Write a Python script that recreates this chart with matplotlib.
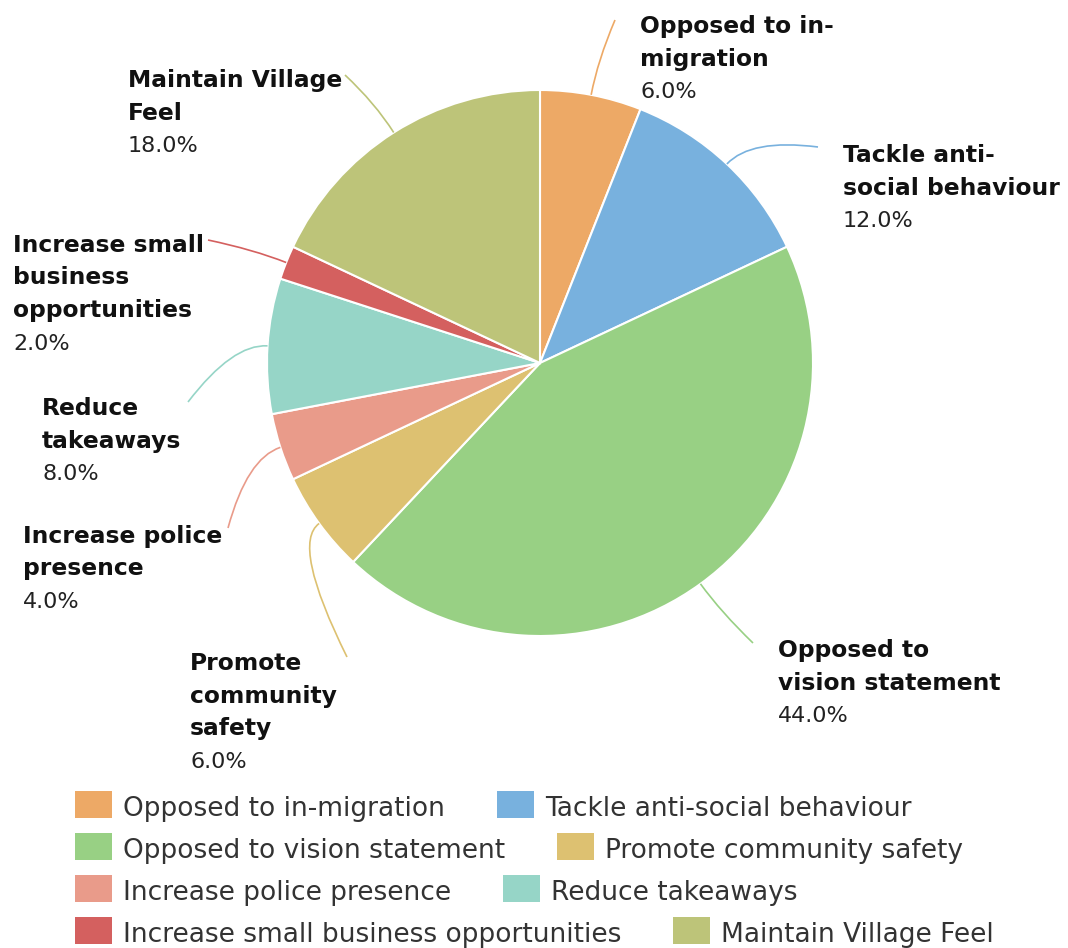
import matplotlib
matplotlib.use("Agg")
import matplotlib.pyplot as plt
from matplotlib.patches import Rectangle, PathPatch
from matplotlib.path import Path
import numpy as np

W, H = 1068, 948

categories = [
    "Opposed to in-migration",
    "Tackle anti-social behaviour",
    "Opposed to vision statement",
    "Promote community safety",
    "Increase police presence",
    "Reduce takeaways",
    "Increase small business opportunities",
    "Maintain Village Feel",
]
values = [6, 12, 44, 6, 4, 8, 2, 18]
colors = ["#EDA966", "#78B1DE", "#98D084", "#DDC171",
          "#E99B8A", "#96D5C7", "#D4605F", "#BDC479"]
# how the data labels wrap next to the pie
label_lines = [
    ["Opposed to in-", "migration"],
    ["Tackle anti-", "social behaviour"],
    ["Opposed to", "vision statement"],
    ["Promote", "community", "safety"],
    ["Increase police", "presence"],
    ["Reduce", "takeaways"],
    ["Increase small", "business", "opportunities"],
    ["Maintain Village", "Feel"],
]

# --- layout (pixels, y down) ---
CENTER = (540, 363)
RADIUS = 273
LINE_H = 32.5
label_pos = [(640, 33), (843, 162), (778, 657), (190, 670),
             (23, 543), (42, 415), (13, 252), (128, 87)]
connector_end = [(615, 20), (818, 147), (753, 643), (347, 657),
                 (228, 528), (188, 402), (208, 240), (345, 75)]

fig = plt.figure(figsize=(W / 100, H / 100), dpi=100)
ax = fig.add_axes([0, 0, 1, 1])

# y axis points down, so counterclock=True runs clockwise on screen
wedges, _ = ax.pie(values, colors=colors, startangle=-90, counterclock=True,
                   center=CENTER, radius=RADIUS,
                   wedgeprops=dict(edgecolor="white", linewidth=1.5))
ax.set_xlim(0, W)
ax.set_ylim(H, 0)
ax.set_aspect("equal")
ax.axis("off")

for w, col, lines, (lx, ly), end in zip(wedges, colors, label_lines,
                                         label_pos, connector_end):
    mid = np.deg2rad((w.theta1 + w.theta2) / 2)
    d = np.array([np.cos(mid), np.sin(mid)])
    edge = np.array(CENTER) + RADIUS * d
    ctrl = edge + 35 * d
    path = Path([edge, ctrl, end], [Path.MOVETO, Path.CURVE3, Path.CURVE3])
    ax.add_patch(PathPatch(path, fc="none", ec=col, lw=1.2))

    for i, line in enumerate(lines):
        ax.text(lx, ly + i * LINE_H, line, fontsize=16.8, fontweight="bold",
                color="#111111", ha="left", va="baseline")
    pct = w.theta2 - w.theta1
    ax.text(lx, ly + len(lines) * LINE_H, f"{pct / 360 * 100:.1f}%",
            fontsize=16, color="#222222", ha="left", va="baseline")

# --- legend: flowing rows, two items per row ---
renderer = fig.canvas.get_renderer()
SW_W, SW_H = 37, 27
row_y = 791
for r in range(0, len(categories), 2):
    x = 75
    for k in range(r, min(r + 2, len(categories))):
        ax.add_patch(Rectangle((x, row_y), SW_W, SW_H, fc=colors[k], ec="none"))
        t = ax.text(x + SW_W + 11, row_y + SW_H / 2 + 11, categories[k],
                    fontsize=19, color="#333333", ha="left", va="baseline")
        x = x + SW_W + 11 + t.get_window_extent(renderer).width + 52
    row_y += 42

fig.savefig("out.png", dpi=100)
